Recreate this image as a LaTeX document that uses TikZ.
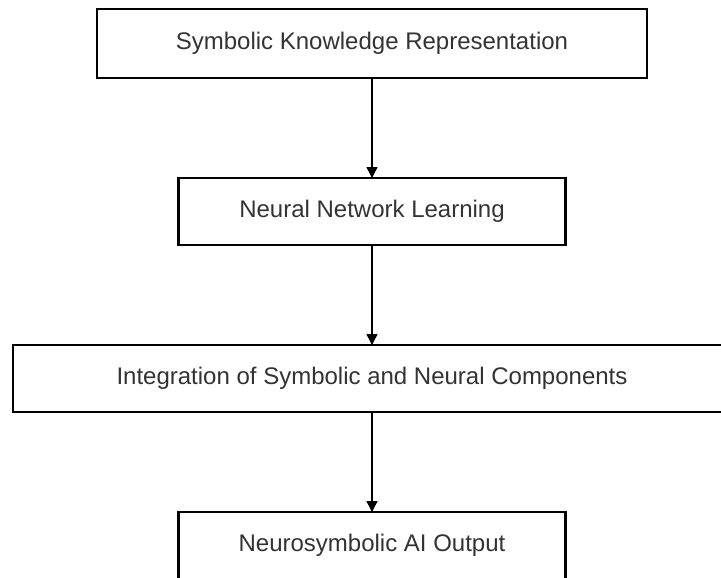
\documentclass[tikz,border=0pt]{standalone}
\usepackage{fontspec}
\setmainfont{Liberation Sans}
\usetikzlibrary{positioning}
\usetikzlibrary{arrows.meta}
\tikzset{>={Triangle[width=3.8mm,length=3.8mm]}}

\begin{document}
\begin{tikzpicture}[
    x = 1pt, y = 1pt,
    node distance = 100pt,
    stage/.style = {draw, line width=2.4pt, minimum height=67pt,
        inner sep = 0pt, outer sep = 0pt, text=black!80,
        font=\fontsize{24}{28}\selectfont},
    flow/.style = {->, line width=1.5pt}
  ]
  \useasboundingbox (0,0) rectangle (721,-578);
  \clip (0,0) rectangle (721,-578);

  \node[stage, minimum width=550pt, minimum height=69pt] (SKR) at (372,-43.5)
    {Symbolic Knowledge Representation};
  \node[stage, minimum width=387pt, below=of SKR] (NNL)
    {Neural Network Learning};
  \node[stage, minimum width=718pt, below=of NNL] (INT)
    {Integration of Symbolic and Neural Components};
  \node[stage, minimum width=387pt, below=of INT] (OUT)
    {Neurosymbolic AI Output};

  \draw[flow] (SKR) -- (NNL);
  \draw[flow] (NNL) -- (INT);
  \draw[flow] (INT) -- (OUT);
\end{tikzpicture}
\end{document}
